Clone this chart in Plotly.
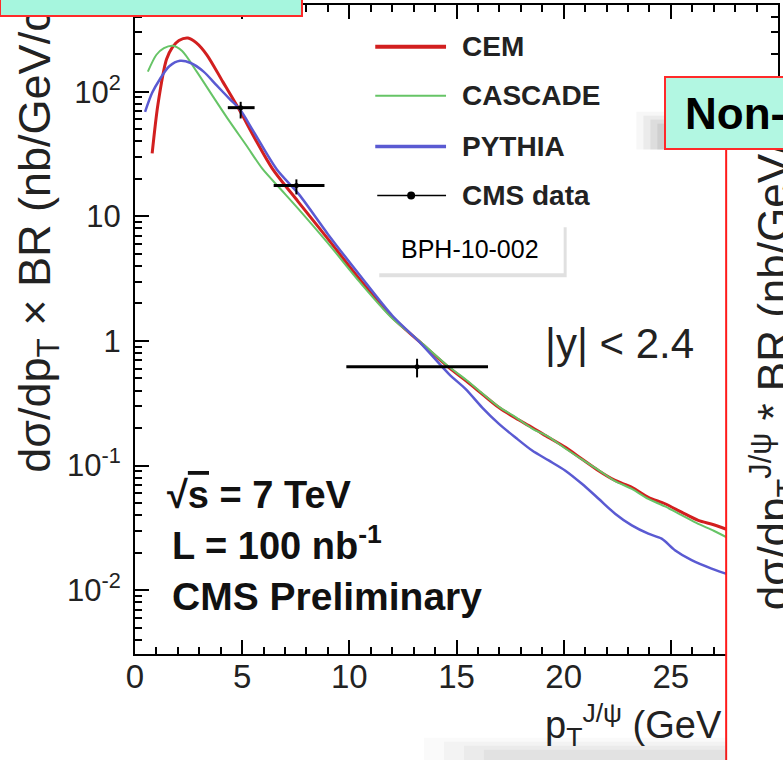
import plotly.graph_objects as go

# ---------------- data ----------------
cem_pt = [0.8, 1.07, 1.47, 1.75, 2.05, 2.47, 2.85, 3.35, 4.1, 4.9, 5.6, 6.4, 7.6, 9.0, 10.5,
          12.0, 13.3, 14.65, 15.43, 16.2, 16.98, 17.75, 18.53, 19.3, 20.08, 20.85, 21.63,
          22.4, 23.18, 23.95, 24.73, 25.5, 26.28, 27.0, 27.9]
cem_xs = [32, 79, 182, 228, 258, 270, 248, 198, 120, 70, 42, 24.3, 13.2, 6.6, 3.1,
          1.55, 0.98, 0.61, 0.48, 0.375, 0.292, 0.241, 0.202, 0.168, 0.140, 0.113, 0.091,
          0.076, 0.067, 0.0557, 0.0494, 0.0423, 0.0363, 0.0335, 0.0295]

cascade_pt = [0.6, 1.0, 1.35, 1.77, 2.2, 2.88, 3.65, 4.42, 5.2, 5.95, 6.8, 7.6, 9.0, 10.5,
              12.0, 13.3, 14.65, 15.43, 16.2, 16.98, 17.75, 18.53, 19.3, 20.08, 20.85,
              21.63, 22.4, 23.18, 23.95, 24.73, 25.5, 26.28, 27.0, 27.9]
cascade_xs = [145, 198, 224, 234, 212, 145, 91, 57.5, 37, 24, 16.5, 11.6, 6.1, 2.95,
              1.52, 0.99, 0.62, 0.49, 0.38, 0.296, 0.245, 0.198, 0.17, 0.137, 0.112,
              0.092, 0.075, 0.065, 0.054, 0.047, 0.040, 0.034, 0.030, 0.025]

pythia_pt = [0.47, 0.8, 1.16, 1.6, 2.1, 2.6, 3.2, 3.8, 4.4, 4.9, 5.5, 6.6, 7.65, 9.0, 10.5,
             12.0, 13.3, 14.65, 15.43, 16.2, 16.98, 17.75, 18.53, 19.3, 20.08, 20.85,
             21.63, 22.4, 23.18, 23.95, 24.57, 25.19, 25.97, 26.9, 27.9]
pythia_xs = [69, 98, 126, 160, 177, 170, 145, 113, 88, 72, 49, 24, 15, 7.2, 3.35,
             1.6, 0.97, 0.542, 0.411, 0.292, 0.216, 0.168, 0.132, 0.110, 0.091, 0.0714,
             0.0542, 0.0411, 0.0331, 0.0284, 0.0259, 0.0209, 0.0174, 0.0149, 0.0130]

data_pt = [4.93, 7.53, 13.16]
data_pt_lo = [0.6, 1.06, 3.3]
data_pt_hi = [0.65, 1.31, 3.31]
data_xs = [74.5, 17.7, 0.62]
data_err_up = [8.5, 2.1, 0.10]
data_err_dn = [13.5, 2.7, 0.11]

x_ticks = [0, 5, 10, 15, 20, 25, 30]
y_tickvals = [0.01, 0.1, 1, 10, 100]
y_ticktext = ["10<sup>-2</sup>", "10<sup>-1</sup>", "1", "10", "10<sup>2</sup>"]
y_minor = [m * 10 ** e for e in range(-3, 3) for m in range(2, 10)]

legend_names = ["CEM", "CASCADE", "PYTHIA", "CMS data"]

# ---------------- layout helpers (pixel -> paper) ----------------
L, R, T, B = 135, 780, 3, 654
W, H = R - L, B - T


def X(px):
    return (px - L) / W


def Y(py):
    return (B - py) / H


FONT = "Liberation Sans, Arial, Helvetica, sans-serif"
RED, GREEN, BLUE = "#d21f1f", "#66c466", "#5a5ad2"

fig = go.Figure()
fig.add_trace(go.Scatter(x=cem_pt, y=cem_xs, mode="lines", name="CEM",
                         line=dict(color=RED, width=3, shape="spline", smoothing=0.8)))
fig.add_trace(go.Scatter(x=cascade_pt, y=cascade_xs, mode="lines", name="CASCADE",
                         line=dict(color=GREEN, width=2, shape="spline", smoothing=0.8)))
fig.add_trace(go.Scatter(x=pythia_pt, y=pythia_xs, mode="lines", name="PYTHIA",
                         line=dict(color=BLUE, width=2.5, shape="spline", smoothing=0.8)))
fig.add_trace(go.Scatter(
    x=data_pt, y=data_xs, mode="markers", name="CMS data",
    marker=dict(color="black", size=5),
    error_x=dict(type="data", array=data_pt_hi, arrayminus=data_pt_lo, symmetric=False,
                 color="black", thickness=3, width=0),
    error_y=dict(type="data", array=data_err_up, arrayminus=data_err_dn, symmetric=False,
                 color="black", thickness=2, width=0)))

axis_common = dict(showline=True, linecolor="black", linewidth=2, mirror="allticks",
                   ticks="inside", tickcolor="black", tickwidth=1.5, ticklen=14,
                   showgrid=False, zeroline=False)

fig.update_xaxes(range=[0, 30], tickmode="array", tickvals=x_ticks,
                 minor=dict(ticks="inside", ticklen=7, dtick=1, tickcolor="black", tickwidth=1.5),
                 ticklabelstandoff=-8,
                 tickfont=dict(family=FONT, size=33, color="#222"), **axis_common)
fig.update_yaxes(type="log", range=[-2.512, 2.696], tickmode="array",
                 tickvals=y_tickvals, ticktext=y_ticktext,
                 minor=dict(ticks="inside", ticklen=7, tickmode="array", tickvals=y_minor,
                            tickcolor="black", tickwidth=1.5),
                 ticklabelstandoff=6,
                 tickfont=dict(family=FONT, size=31, color="#222"), **axis_common)

shapes = []
# legend line samples
leg_y = [45, 94, 145, 194]
shapes.append(dict(type="line", xref="paper", yref="paper", x0=X(376), x1=X(447),
                   y0=Y(leg_y[0]), y1=Y(leg_y[0]), line=dict(color=RED, width=4), layer="above"))
shapes.append(dict(type="line", xref="paper", yref="paper", x0=X(376), x1=X(447),
                   y0=Y(leg_y[1]), y1=Y(leg_y[1]), line=dict(color=GREEN, width=2), layer="above"))
shapes.append(dict(type="line", xref="paper", yref="paper", x0=X(376), x1=X(447),
                   y0=Y(leg_y[2]), y1=Y(leg_y[2]), line=dict(color=BLUE, width=3.5), layer="above"))
shapes.append(dict(type="line", xref="paper", yref="paper", x0=X(378), x1=X(447),
                   y0=Y(leg_y[3]), y1=Y(leg_y[3]), line=dict(color="black", width=1.5), layer="above"))
shapes.append(dict(type="circle", xref="paper", yref="paper", x0=X(408), x1=X(416),
                   y0=Y(198), y1=Y(190), fillcolor="black", line=dict(color="black", width=0),
                   layer="above"))
# BPH box with shadow
shapes.append(dict(type="rect", xref="paper", yref="paper", x0=X(380), x1=X(568),
                   y0=Y(276), y1=Y(226), fillcolor="rgba(0,0,0,0.12)", line=dict(width=0),
                   layer="above"))
shapes.append(dict(type="rect", xref="paper", yref="paper", x0=X(377), x1=X(565),
                   y0=Y(272), y1=Y(223), fillcolor="white", line=dict(width=0), layer="above"))
# white panel of the neighbouring plot covering the right edge
shapes.append(dict(type="rect", xref="paper", yref="paper", x0=X(728), x1=X(800),
                   y0=Y(780), y1=Y(148), fillcolor="white", line=dict(width=0), layer="above"))
shapes.append(dict(type="line", xref="paper", yref="paper", x0=X(728), x1=X(728),
                   y0=Y(770), y1=Y(148), line=dict(color="#ff1a1a", width=2), layer="above"))
# soft shadow left of the "Non-" box
for i, a in enumerate([0.05, 0.07, 0.09, 0.10]):
    shapes.append(dict(type="rect", xref="paper", yref="paper", x0=X(638 + 7 * i), x1=X(668),
                       y0=Y(148), y1=Y(110 + 4 * i), fillcolor=f"rgba(90,90,90,{a})",
                       line=dict(width=0), layer="above"))
# soft shadow at the bottom
for i, a in enumerate([0.04, 0.05, 0.06, 0.07]):
    shapes.append(dict(type="rect", xref="paper", yref="paper", x0=X(425 + 20 * i), x1=X(728),
                       y0=Y(770), y1=Y(738 + 4 * i), fillcolor=f"rgba(120,120,120,{a})",
                       line=dict(width=0), layer="above"))

ann = []
for name, yy in zip(legend_names, leg_y):
    ann.append(dict(text=name, xref="paper", yref="paper", x=X(461), y=Y(yy),
                    xanchor="left", yanchor="middle", showarrow=False,
                    font=dict(family=FONT, size=28, color="#222", weight="bold")))
ann.append(dict(text="BPH-10-002", xref="paper", yref="paper", x=X(471), y=Y(248),
                xanchor="center", yanchor="middle", showarrow=False,
                font=dict(family=FONT, size=25, color="black")))
ann.append(dict(text="|y| < 2.4", xref="paper", yref="paper", x=X(544), y=Y(343),
                xanchor="left", yanchor="middle", showarrow=False,
                font=dict(family=FONT, size=42, color="#222")))
ann.append(dict(text="√<span style='text-decoration:overline'>s</span> = 7 TeV",
                xref="paper", yref="paper", x=X(165), y=Y(495),
                xanchor="left", yanchor="middle", showarrow=False,
                font=dict(family=FONT, size=38, color="#111", weight="bold")))
ann.append(dict(text="L = 100 nb<sup>-1</sup>", xref="paper", yref="paper", x=X(170), y=Y(543),
                xanchor="left", yanchor="middle", showarrow=False,
                font=dict(family=FONT, size=38, color="#111", weight="bold")))
ann.append(dict(text="CMS Preliminary", xref="paper", yref="paper", x=X(170), y=Y(596),
                xanchor="left", yanchor="middle", showarrow=False,
                font=dict(family=FONT, size=39, color="#111", weight="bold")))
# axis titles (ROOT style placement)
ann.append(dict(text="dσ/dp<sub>T</sub> × BR (nb/GeV/c)", xref="paper", yref="paper",
                x=X(37), y=Y(474), xanchor="center", yanchor="bottom", textangle=-90,
                showarrow=False, font=dict(family=FONT, size=45, color="#222")))
ann.append(dict(text="p<sub>T</sub><sup>J/ψ</sup> (GeV", xref="paper", yref="paper",
                x=X(544), y=Y(725), xanchor="left", yanchor="middle", showarrow=False,
                font=dict(family=FONT, size=38, color="#222")))
# neighbouring panel's axis title
ann.append(dict(text="dσ/dp<sub>T</sub><sup>J/ψ</sup> * BR (nb/GeV/c)", xref="paper", yref="paper",
                x=X(743), y=Y(612), xanchor="left", yanchor="bottom", textangle=-90,
                showarrow=False, font=dict(family=FONT, size=44, color="#222")))
# slide title boxes (drawn last so they sit on top)
ann.append(dict(text="\u00a0", xref="paper", yref="paper", x=X(-1), y=Y(15),
                xanchor="left", yanchor="bottom", showarrow=False, width=300, height=80,
                bgcolor="#a6f6de", bordercolor="#ff2a2a", borderwidth=2, borderpad=0,
                font=dict(family=FONT, size=10)))
ann.append(dict(text="\u00a0", xref="paper", yref="paper", x=X(666), y=Y(148),
                xanchor="left", yanchor="bottom", showarrow=False, width=160, height=70,
                bgcolor="#b2f7e2", bordercolor="#ff2a2a", borderwidth=2, borderpad=0,
                font=dict(family=FONT, size=10)))
ann.append(dict(text="Non-prompt J/ψ", xref="paper", yref="paper", x=X(685), y=Y(112),
                xanchor="left", yanchor="middle", showarrow=False,
                font=dict(family=FONT, size=44, color="black", weight="bold")))

fig.update_layout(width=783, height=760, autosize=False,
                  margin=dict(l=L, r=783 - R, t=T, b=760 - B),
                  paper_bgcolor="white", plot_bgcolor="white",
                  showlegend=False, shapes=shapes, annotations=ann)

fig.write_html("out.html")
